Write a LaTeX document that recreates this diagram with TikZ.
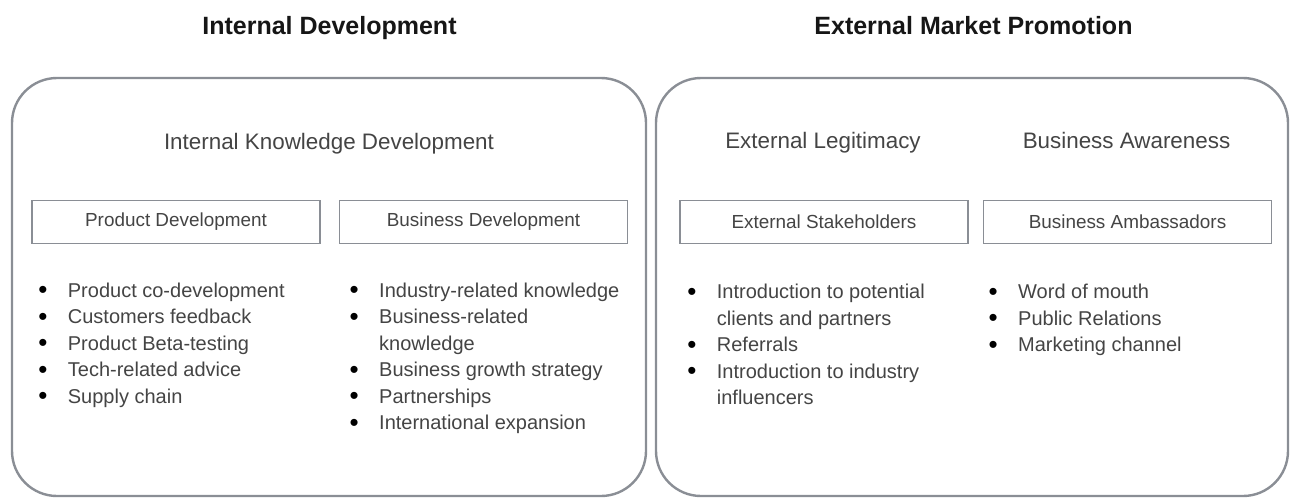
\documentclass[tikz,border=0pt]{standalone}
\usepackage{fontspec}
\setmainfont{Liberation Sans}
\usetikzlibrary{positioning}

\definecolor{framegray}{HTML}{8A8E95}
\definecolor{bodytext}{HTML}{444444}
\definecolor{headtext}{HTML}{161616}

% bullet list helpers: a bullet line and a continuation line
\newcommand\blmark{\makebox[29.5pt][l]{\raisebox{-1.6pt}{\fontsize{26}{0}\selectfont\color{black}\textbullet}}}
\newcommand\blitem[1]{\blmark#1\par}
\newcommand\blcont[1]{\hspace*{29.5pt}#1\par}
\newcommand\bllist[1]{\parbox[t]{300pt}{\raggedright\parindent=0pt\parskip=0pt
  \fontsize{20}{26.5}\selectfont#1}}

\tikzset{
  panel/.style={draw=framegray, line width=2.4pt, rounded corners=45pt},
  heading/.style={anchor=base, inner sep=0pt, font=\bfseries\fontsize{25}{30}\selectfont, text=headtext},
  subheading/.style={anchor=base, inner sep=0pt, font=\fontsize{22.4}{27}\selectfont, text=bodytext},
  tagbox/.style={draw=framegray, line width=1.3pt, minimum width=288pt, minimum height=43pt,
    inner sep=0pt, font=\fontsize{18.9}{22}\selectfont, text=bodytext},
  listnode/.style={anchor=base west, inner sep=0pt, text=bodytext},
}

\begin{document}
\begin{tikzpicture}[x=1pt, y=-1pt]
\useasboundingbox (0,0) rectangle (1291,499);

% two large panels
\draw[panel] (12,78) rectangle (646,496);
\draw[panel] (656,78) rectangle (1288,496);

% panel titles
\node[heading] (intdev) at (329.5,34) {Internal Development};
\node[heading] (extmkt) at (973.5,34) {External Market Promotion};

% section headings inside the panels
\node[subheading] (ikd) at (329,149) {Internal Knowledge Development};
\node[subheading] (legit) at (823,148) {External Legitimacy};
\node[subheading] (aware) at (1126.5,148) {Business Awareness};

% category boxes
\node[tagbox] (proddev) at (176,222) {Product Development};
\node[tagbox] (busdev) at (483.5,222) {Business Development};
\node[tagbox] (stake) at (824,222) {External Stakeholders};
\node[tagbox] (ambass) at (1127.5,222) {Business Ambassadors};

% bullet lists
\node[listnode] (prodlist) at (38.2,297) {\bllist{%
  \blitem{Product co-development}
  \blitem{Customers feedback}
  \blitem{Product Beta-testing}
  \blitem{Tech-related advice}
  \blitem{Supply chain}}};

\node[listnode] (buslist) at (349.5,297) {\bllist{%
  \blitem{Industry-related knowledge}
  \blitem{Business-related}
  \blcont{knowledge}
  \blitem{Business growth strategy}
  \blitem{Partnerships}
  \blitem{International expansion}}};

\node[listnode] (stakelist) at (687.2,298.5) {\bllist{%
  \blitem{Introduction to potential}
  \blcont{clients and partners}
  \blitem{Referrals}
  \blitem{Introduction to industry}
  \blcont{influencers}}};

\node[listnode] (ambasslist) at (988.5,298.5) {\bllist{%
  \blitem{Word of mouth}
  \blitem{Public Relations}
  \blitem{Marketing channel}}};
\end{tikzpicture}
\end{document}
